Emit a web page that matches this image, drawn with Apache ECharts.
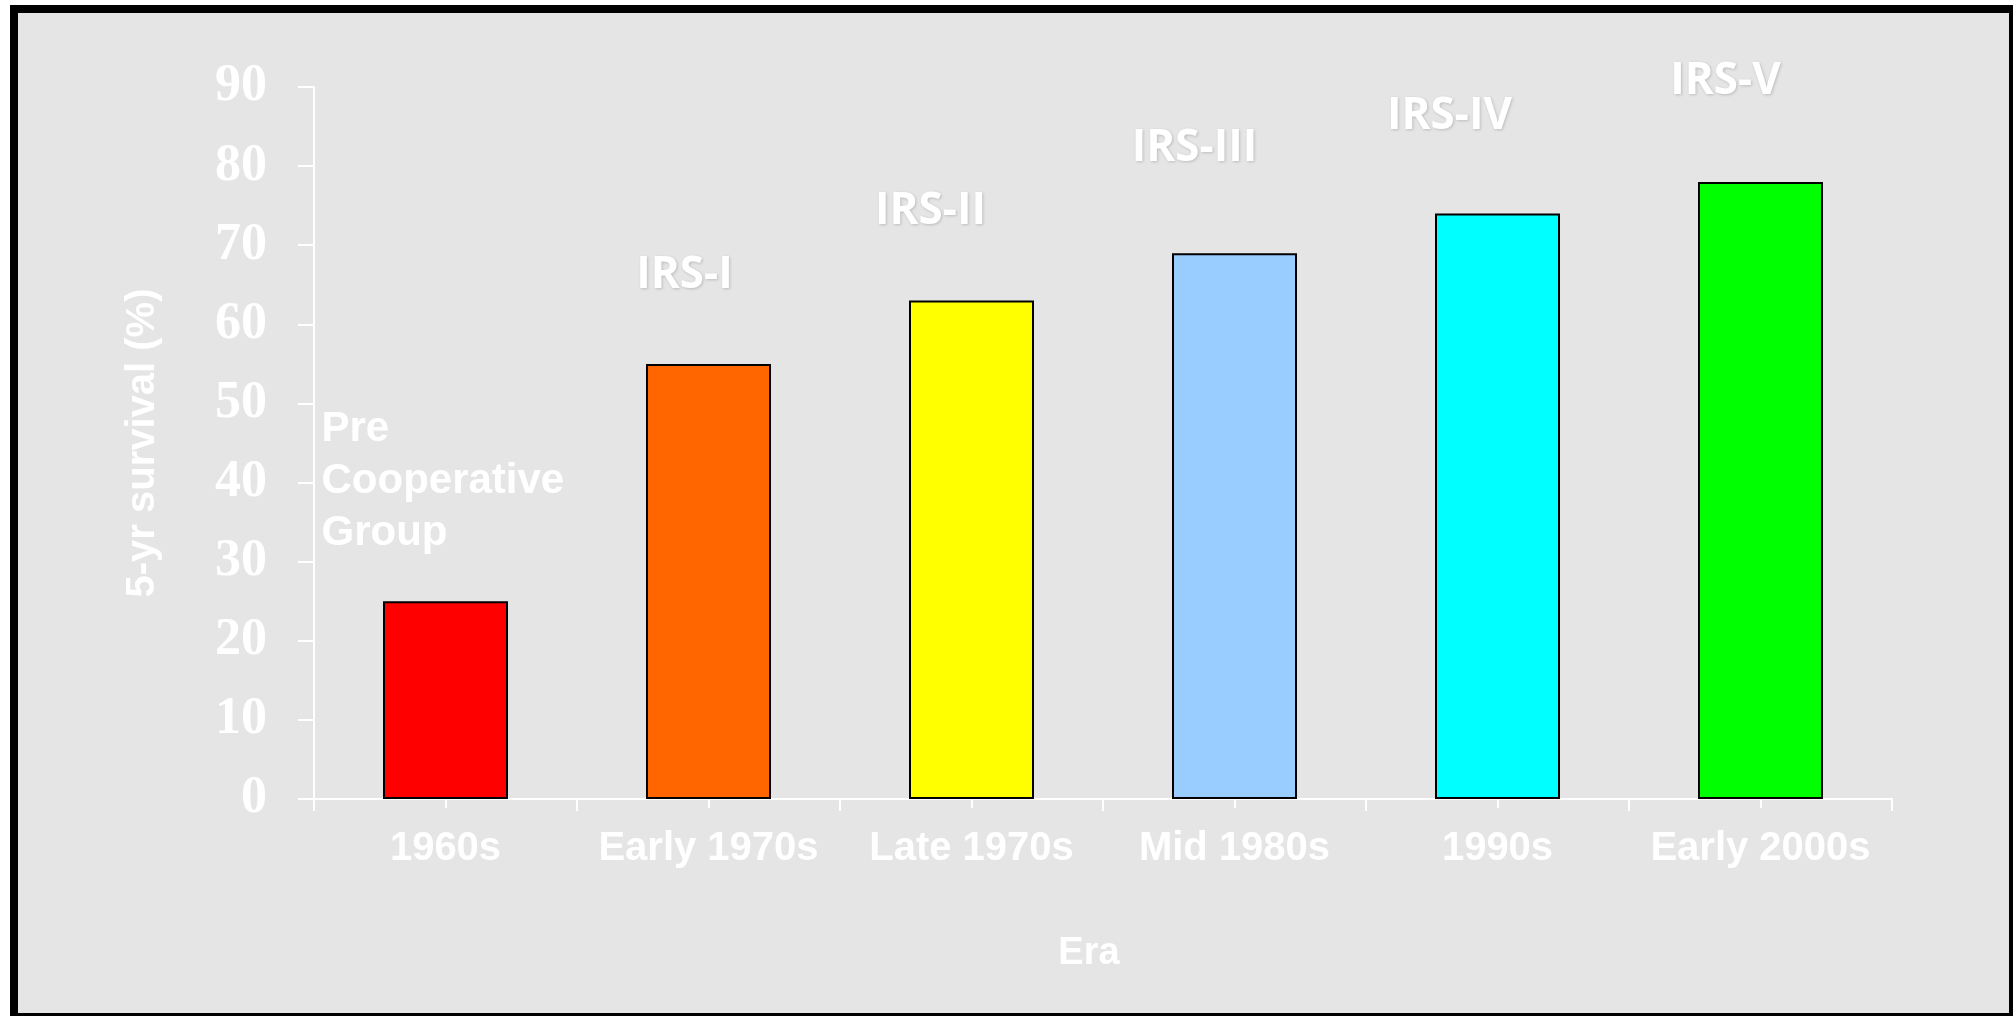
<!DOCTYPE html>
<html>
<head>
<meta charset="utf-8">
<title>5-yr survival by era</title>
<script src="https://cdn.jsdelivr.net/npm/echarts@6/dist/echarts.min.js"></script>
<style>
  html, body { margin: 0; padding: 0; background: #ffffff; }
  #chart { width: 2013px; height: 1016px; }
</style>
</head>
<body>
<div id="chart"></div>
<script>
// Eras on the category axis
const eras = ['1960s', 'Early 1970s', 'Late 1970s', 'Mid 1980s', '1990s', 'Early 2000s'];
// 5-year survival (%) per era
const survival = [25, 55, 63, 69, 74, 78];
// Study group named above each bar
const studyGroups = ['Pre\nCooperative\nGroup', 'IRS-I', 'IRS-II', 'IRS-III', 'IRS-IV', 'IRS-V'];
// Y axis tick range
const yTicks = { min: 0, max: 90, step: 10 };

// Presentation only
const barColors = ['#ff0000', '#ff6600', '#ffff00', '#99ccff', '#00ffff', '#00ff00'];
const groupLabelOffsets = [[-124, -120], [-24, -88], [-41, -89], [-40, -105], [-48, -97], [-35, -100]];

const WHITE = '#ffffff';
const irsLabelStyle = {
  fontFamily: '"Open Sans", "Liberation Sans", sans-serif',
  fontWeight: 'bold',
  fontSize: 44,
  lineHeight: 44,
  color: WHITE,
  textShadowColor: 'rgba(0,0,0,0.18)',
  textShadowBlur: 3,
  textShadowOffsetX: 1,
  textShadowOffsetY: 1
};
const preLabelStyle = {
  fontFamily: '"Liberation Sans", Arial, sans-serif',
  fontWeight: 'bold',
  fontSize: 42,
  lineHeight: 52,
  color: WHITE,
  align: 'left'
};

const barData = survival.map((v, i) => ({
  value: v,
  itemStyle: { color: barColors[i] },
  label: Object.assign({
    show: true,
    position: 'top',
    distance: 0,
    align: 'center',
    verticalAlign: 'middle',
    offset: groupLabelOffsets[i],
    formatter: studyGroups[i]
  }, i === 0 ? preLabelStyle : irsLabelStyle)
}));

const chart = echarts.init(document.getElementById('chart'), null, { renderer: 'canvas' });

chart.setOption({
  backgroundColor: '#ffffff',
  animation: false,
  graphic: {
    elements: [{
      type: 'rect',
      silent: true,
      z: -10,
      shape: { x: 14, y: 9, width: 1999, height: 1008 },
      style: { fill: '#e5e5e5', stroke: '#000000', lineWidth: 8 }
    }]
  },
  grid: { left: 314, right: 121, top: 87, bottom: 217, containLabel: false },
  xAxis: [{
    type: 'category',
    data: eras,
    position: 'bottom',
    name: 'Era',
    nameLocation: 'middle',
    nameGap: 136,
    nameTextStyle: {
      fontFamily: '"Liberation Sans", Arial, sans-serif',
      fontWeight: 'bold',
      fontSize: 38,
      color: WHITE,
      padding: [0, 28, 0, 0]
    },
    axisLine: { show: true, lineStyle: { color: WHITE, width: 2 } },
    axisTick: { show: true, alignWithLabel: false, length: 12, lineStyle: { color: WHITE, width: 2 } },
    axisLabel: {
      interval: 0,
      margin: 30,
      fontFamily: '"Liberation Sans", Arial, sans-serif',
      fontWeight: 'bold',
      fontSize: 40,
      color: WHITE
    },
    splitLine: { show: false }
  }, {
    // mid-category ticks
    type: 'category',
    data: eras,
    position: 'bottom',
    gridIndex: 0,
    axisLine: { show: false },
    axisTick: { show: true, alignWithLabel: true, length: 9, lineStyle: { color: WHITE, width: 2 } },
    axisLabel: { show: false },
    splitLine: { show: false }
  }],
  yAxis: {
    type: 'value',
    min: yTicks.min,
    max: yTicks.max,
    interval: yTicks.step,
    name: '5-yr survival (%)',
    nameLocation: 'middle',
    nameGap: 151,
    nameRotate: 90,
    nameTextStyle: {
      fontFamily: '"Liberation Sans", Arial, sans-serif',
      fontWeight: 'bold',
      fontSize: 40,
      color: WHITE
    },
    axisLine: { show: true, lineStyle: { color: WHITE, width: 2 } },
    axisTick: { show: true, length: 16, lineStyle: { color: WHITE, width: 2 } },
    axisLabel: {
      margin: 47,
      fontFamily: '"Liberation Serif", "Times New Roman", serif',
      fontWeight: 'bold',
      fontSize: 52,
      color: WHITE
    },
    splitLine: { show: false }
  },
  series: [{
    type: 'bar',
    xAxisIndex: 0,
    data: barData,
    barWidth: 125,
    itemStyle: { borderColor: '#000000', borderWidth: 2 }
  }]
});
</script>
</body>
</html>
